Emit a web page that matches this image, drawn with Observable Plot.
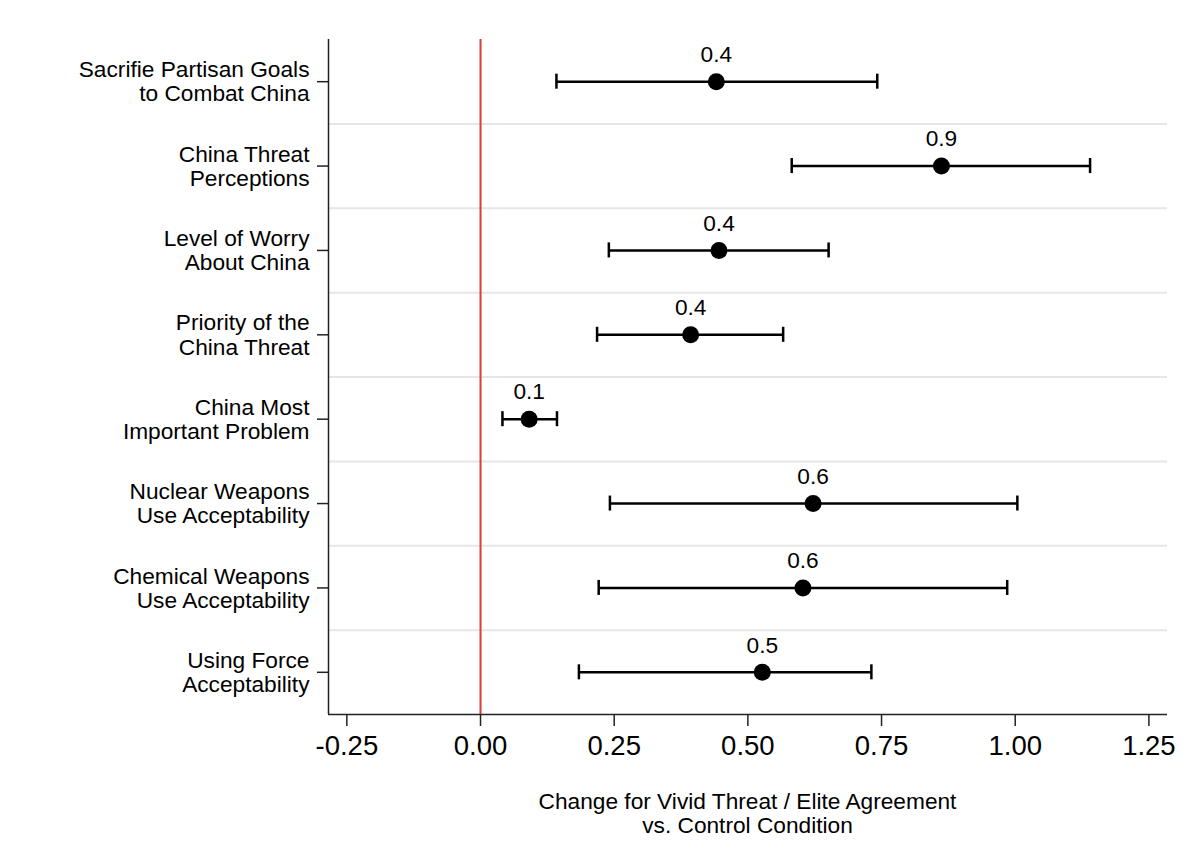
<!DOCTYPE html>
<html>
<head>
<meta charset="utf-8">
<script src="https://cdn.jsdelivr.net/npm/d3@7"></script>
<script src="https://cdn.jsdelivr.net/npm/@observablehq/plot@0.6"></script>
<style>
  html, body { margin: 0; padding: 0; background: #fff; }
  #chart svg { display: block; }
  .xtitle {
    font-family: "Liberation Sans", Arial, Helvetica, sans-serif;
    font-size: 22.7px; line-height: 24px; color: #000;
    width: 839px; margin-left: 328px; text-align: center; margin-top: 9px;
  }
</style>
</head>
<body>
<div id="chart"></div>
<div class="xtitle">Change for Vivid Threat / Elite Agreement<br>vs. Control Condition</div>
<script>
const outcomes = [
  "Sacrifie Partisan Goals\nto Combat China",
  "China Threat\nPerceptions",
  "Level of Worry\nAbout China",
  "Priority of the\nChina Threat",
  "China Most\nImportant Problem",
  "Nuclear Weapons\nUse Acceptability",
  "Chemical Weapons\nUse Acceptability",
  "Using Force\nAcceptability"
];
const estimates = [0.441, 0.862, 0.446, 0.393, 0.091, 0.622, 0.603, 0.527];
const lower     = [0.142, 0.582, 0.240, 0.218, 0.041, 0.242, 0.221, 0.184];
const upper     = [0.742, 1.140, 0.651, 0.566, 0.143, 1.004, 0.985, 0.731];
const labels    = ["0.4", "0.9", "0.4", "0.4", "0.1", "0.6", "0.6", "0.5"];
const xTicks    = [-0.25, 0, 0.25, 0.5, 0.75, 1, 1.25];

const rows = outcomes.map((name, k) => ({
  i: k + 1, name, est: estimates[k], lo: lower[k], hi: upper[k], label: labels[k]
}));
const boundaries = d3.range(1, outcomes.length).map(k => k + 0.5);
const capHalf = 0.089;
const font = '"Liberation Sans", Arial, Helvetica, sans-serif';
const fmt = d => d.toFixed(2);

const chart = Plot.plot({
  width: 1196,
  height: 780,
  marginTop: 39,
  marginBottom: 66,
  marginLeft: 328,
  marginRight: 29,
  style: { fontFamily: font, fontSize: "22.7px", color: "#000", background: "#fff" },
  x: { domain: [-0.2843, 1.2848], ticks: xTicks, tickFormat: fmt, label: null },
  y: { domain: [0.5, outcomes.length + 0.5], reverse: true, label: null },
  marks: [
    Plot.ruleY(boundaries, { stroke: "#e6e6e6", strokeWidth: 2 }),
    Plot.ruleX([0], { stroke: "#dd3b36", strokeWidth: 2 }),
    Plot.ruleX([-0.2843], { stroke: "#222", strokeWidth: 1.5 }),
    Plot.ruleY([outcomes.length + 0.5], { stroke: "#222", strokeWidth: 1.5 }),
    Plot.axisX({
      ticks: xTicks, tickFormat: fmt, tickSize: 12, tickPadding: 9,
      fontSize: 27.5, stroke: "#222", strokeWidth: 1.5, label: null
    }),
    Plot.axisY({
      ticks: rows.map(d => d.i), tickFormat: i => outcomes[i - 1],
      tickSize: 11, tickPadding: 8, fontSize: 22.7, lineHeight: 1.06,
      stroke: "#222", strokeWidth: 1.5, label: null
    }),
    Plot.link(rows, { x1: "lo", x2: "hi", y1: "i", y2: "i", stroke: "#000", strokeWidth: 2.5 }),
    Plot.ruleX(rows, { x: "lo", y1: d => d.i - capHalf, y2: d => d.i + capHalf, stroke: "#000", strokeWidth: 2.5 }),
    Plot.ruleX(rows, { x: "hi", y1: d => d.i - capHalf, y2: d => d.i + capHalf, stroke: "#000", strokeWidth: 2.5 }),
    Plot.dot(rows, { x: "est", y: "i", r: 8.5, fill: "#000", stroke: null }),
    Plot.text(rows, { x: "est", y: "i", text: "label", dy: -27, fontSize: 22.7, fill: "#000" })
  ]
});
document.getElementById("chart").appendChild(chart);
</script>
</body>
</html>
